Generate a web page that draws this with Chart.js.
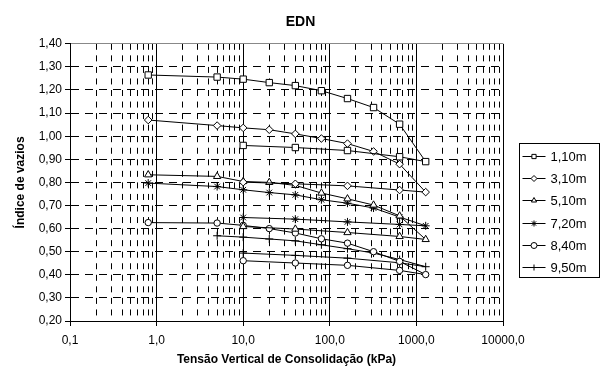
<!DOCTYPE html>
<html lang="pt-BR">
<head>
  <meta charset="UTF-8">
  <title>EDN</title>
  <script src="https://cdn.jsdelivr.net/npm/chart.js"></script>
  <style>
    body {
      margin: 0;
      background: #fff;
    }
  </style>
</head>
<body>
  <canvas id="ednChart" width="601" height="370"></canvas>
  <script>
    // amostras (profundidade)
    const samples = ['1,10m', '3,10m', '5,10m', '7,20m', '8,40m', '9,50m'];
    const markers = ['rect', 'rectRot', 'triangle', 'star', 'circle', 'cross'];
    const markerSize = [4.5, 3.8, 4.2, 4, 3.2, 4];

    // tensões (kPa)
    const loadX = [0.8, 5, 10, 20, 40, 80, 160, 320, 640, 1280];
    const unloadX = [640, 160, 40, 10];

    // índice de vazios - carregamento
    const load110 = [1.265, 1.256, 1.247, 1.232, 1.219, 1.197, 1.163, 1.124, 1.052, 0.890];
    const load310 = [1.070, 1.046, 1.036, 1.028, 1.010, 0.990, 0.968, 0.934, 0.879, 0.758];
    const load510 = [0.833, 0.826, 0.804, 0.800, 0.787, 0.754, 0.729, 0.702, 0.655, 0.553];
    const load720 = [0.797, 0.782, 0.768, 0.756, 0.746, 0.725, 0.710, 0.689, 0.650, 0.612];
    const load840 = [0.626, 0.624, 0.614, 0.600, 0.581, 0.556, 0.537, 0.500, 0.458, 0.401];
    const load950 = [0.569, 0.563, 0.555, 0.547, 0.530, 0.513, 0.494, 0.466, 0.435];

    // índice de vazios - descarregamento
    const unload110 = [0.911, 0.938, 0.951, 0.960];
    const unload310 = [0.767, 0.785, 0.794, 0.801];
    const unload510 = [0.566, 0.583, 0.598, 0.609];
    const unload720 = [0.618, 0.629, 0.641, 0.648];
    const unload840 = [0.419, 0.441, 0.451, 0.461];
    const unload950 = [0.452, 0.472, 0.484, 0.494];

    const loads = [load110, load310, load510, load720, load840, load950];
    const unloads = [unload110, unload310, unload510, unload720, unload840, unload950];

    const yTicks = [0.2, 0.3, 0.4, 0.5, 0.6, 0.7, 0.8, 0.9, 1.0, 1.1, 1.2, 1.3, 1.4];
    const xTicks = [];
    for (let e = -1; e <= 3; e++) {
      for (let m = 1; m <= 9; m++) xTicks.push(m * Math.pow(10, e));
    }
    xTicks.push(10000);

    const isDecade = v => Math.abs(Math.log10(v) - Math.round(Math.log10(v))) < 1e-9;

    function toPoints(load, unload) {
      const xs = loadX.slice(loadX.length - load.length);
      const pts = load.map((y, i) => ({ x: xs[i], y: y }));
      unload.forEach((y, i) => pts.push({ x: unloadX[i], y: y }));
      return pts;
    }

    // legenda desenhada à direita, com linha + marcador
    const sideLegend = {
      id: 'sideLegend',
      afterDraw(chart) {
        const ctx = chart.ctx;
        const left = 519.5, top = 143.5, rowH = 22.2;
        ctx.save();
        ctx.strokeStyle = '#000';
        ctx.lineWidth = 1;
        ctx.strokeRect(left, top, 80, 134);
        chart.data.datasets.forEach((ds, i) => {
          const y = Math.round(top + 12.5 + i * rowH) + 0.5;
          ctx.strokeStyle = '#000';
          ctx.beginPath();
          ctx.moveTo(left + 3, y);
          ctx.lineTo(left + 26, y);
          ctx.stroke();
          ctx.fillStyle = '#fff';
          Chart.helpers.drawPoint(ctx, { pointStyle: ds.pointStyle, radius: 3, borderWidth: 1, rotation: 0 }, left + 14.5, y);
          ctx.fillStyle = '#000';
          ctx.font = '13px "Liberation Sans", Arial, sans-serif';
          ctx.textBaseline = 'middle';
          ctx.fillText(ds.label, left + 31, y + 0.5);
        });
        ctx.restore();
      }
    };

    const font = '"Liberation Sans", Arial, sans-serif';

    new Chart(document.getElementById('ednChart'), {
      type: 'line',
      data: {
        datasets: samples.map((name, i) => ({
          label: name,
          data: toPoints(loads[i], unloads[i]),
          borderColor: '#000',
          borderWidth: 1,
          pointStyle: markers[i],
          pointRadius: markerSize[i],
          pointBackgroundColor: '#fff',
          pointBorderColor: '#000',
          pointBorderWidth: 1,
          tension: 0,
          fill: false
        }))
      },
      options: {
        responsive: false,
        animation: false,
        devicePixelRatio: 1,
        layout: { padding: 0 },
        plugins: {
          legend: { display: false },
          tooltip: { enabled: false },
          title: {
            display: true,
            text: 'EDN',
            color: '#000',
            font: { family: font, size: 14, weight: 'bold' },
            padding: { top: 14, bottom: 13 }
          }
        },
        scales: {
          x: {
            type: 'logarithmic',
            min: 0.1,
            max: 10000,
            afterBuildTicks: s => { s.ticks = xTicks.map(v => ({ value: v })); },
            afterFit: s => { s.height = 49; },
            ticks: {
              autoSkip: false,
              maxRotation: 0,
              padding: 7,
              color: '#000',
              font: { family: font, size: 12 },
              callback: v => isDecade(v) ? v.toFixed(1).replace('.', ',') : ''
            },
            grid: {
              color: '#000',
              lineWidth: 1,
              tickLength: 5,
              tickColor: ctx => (ctx.tick && isDecade(ctx.tick.value)) ? '#000' : 'rgba(0,0,0,0)'
            },
            border: {
              color: '#000',
              dash: ctx => (ctx.tick && !isDecade(ctx.tick.value)) ? [6, 5.55] : []
            },
            title: {
              display: true,
              text: 'Tensão Vertical de Consolidação (kPa)',
              color: '#000',
              font: { family: font, size: 12, weight: 'bold' },
              padding: { top: 0, bottom: 3 }
            }
          },
          y: {
            min: 0.2,
            max: 1.4,
            afterBuildTicks: s => { s.ticks = yTicks.map(v => ({ value: v })); },
            afterFit: s => { s.width = 70; },
            ticks: {
              padding: 3,
              color: '#000',
              font: { family: font, size: 12 },
              callback: v => v.toFixed(2).replace('.', ',')
            },
            grid: {
              color: ctx => (ctx.tick && ctx.tick.value > 1.39) ? '#888' : '#000',
              lineWidth: 1,
              tickLength: 5,
              tickColor: '#000'
            },
            border: {
              color: '#000',
              dash: ctx => (ctx.tick && ctx.tick.value < 1.39) ? [8, 6] : []
            },
            title: {
              display: true,
              text: 'Índice de vazios',
              color: '#000',
              font: { family: font, size: 12, weight: 'bold' },
              padding: { top: 13, bottom: 0 }
            }
          },
          // espaço reservado para a legenda
          side: {
            position: 'right',
            display: true,
            afterFit: s => { s.width = 98; },
            grid: { display: false },
            border: { display: false },
            ticks: { display: false }
          }
        }
      },
      plugins: [sideLegend]
    });
  </script>
</body>
</html>
